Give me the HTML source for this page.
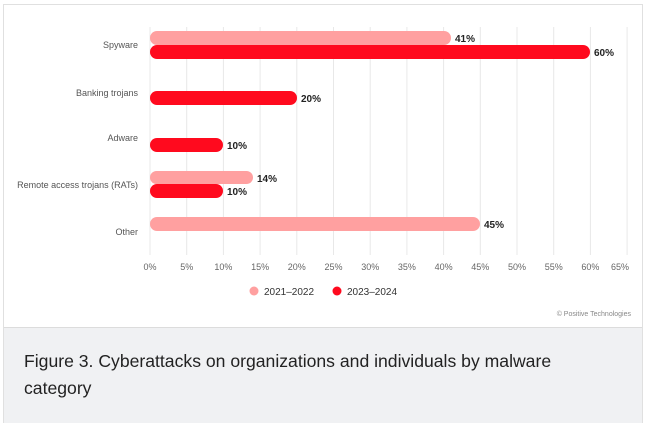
<!DOCTYPE html>
<html><head><style>
body{margin:0;width:646px;height:428px;background:#fff;font-family:"Liberation Sans",sans-serif;position:relative;overflow:hidden}
.box{position:absolute;left:3px;top:4px;width:638px;height:417px;border:1px solid #e0e0e0}
.cap{position:absolute;left:4px;top:327px;width:638px;height:95px;background:#f0f1f3;border-top:1px solid #dcdcdc}
.cap div{position:absolute;left:20px;top:20px;font-size:17.6px;line-height:27px;color:#222;white-space:nowrap}
</style></head><body>
<div class="box"></div>
<div class="cap"><div>Figure 3. Cyberattacks on organizations and individuals by malware<br>category</div></div>
<svg width="646" height="428" style="position:absolute;left:0;top:0" font-family="Liberation Sans, sans-serif">
<g stroke="#e8e8e8" stroke-width="1">
<line x1="150" y1="27" x2="150" y2="255"/><line x1="186.7" y1="27" x2="186.7" y2="255"/><line x1="223.4" y1="27" x2="223.4" y2="255"/><line x1="260.1" y1="27" x2="260.1" y2="255"/><line x1="296.8" y1="27" x2="296.8" y2="255"/><line x1="333.5" y1="27" x2="333.5" y2="255"/><line x1="370.2" y1="27" x2="370.2" y2="255"/><line x1="406.9" y1="27" x2="406.9" y2="255"/><line x1="443.6" y1="27" x2="443.6" y2="255"/><line x1="480.3" y1="27" x2="480.3" y2="255"/><line x1="517" y1="27" x2="517" y2="255"/><line x1="553.7" y1="27" x2="553.7" y2="255"/><line x1="590.4" y1="27" x2="590.4" y2="255"/><line x1="627.1" y1="27" x2="627.1" y2="255"/>
</g>
<g font-size="9" fill="#666" text-anchor="middle">
<text x="150" y="270">0%</text><text x="186.7" y="270">5%</text><text x="223.4" y="270">10%</text><text x="260.1" y="270">15%</text><text x="296.8" y="270">20%</text><text x="333.5" y="270">25%</text><text x="370.2" y="270">30%</text><text x="406.9" y="270">35%</text><text x="443.6" y="270">40%</text><text x="480.3" y="270">45%</text><text x="517" y="270">50%</text><text x="553.7" y="270">55%</text><text x="590.4" y="270">60%</text><text x="620" y="270">65%</text>
</g>
<g font-size="9" fill="#555" text-anchor="end">
<text x="138" y="48">Spyware</text><text x="138" y="96">Banking trojans</text><text x="138" y="141">Adware</text><text x="138" y="188">Remote access trojans (RATs)</text><text x="138" y="235">Other</text>
</g>
<g>
<rect x="150" y="31" width="301" height="14" rx="7" fill="#ffa0a0"/>
<rect x="150" y="45" width="440" height="14" rx="7" fill="#ff0a1e"/>
<rect x="150" y="91" width="147" height="14" rx="7" fill="#ff0a1e"/>
<rect x="150" y="138" width="73" height="14" rx="7" fill="#ff0a1e"/>
<rect x="150" y="171" width="103" height="13" rx="6.5" fill="#ffa0a0"/>
<rect x="150" y="184" width="73" height="14" rx="7" fill="#ff0a1e"/>
<rect x="150" y="217" width="330" height="14" rx="7" fill="#ffa0a0"/>
</g>
<g font-size="10" font-weight="bold" fill="#222">
<text x="455" y="42">41%</text><text x="594" y="56">60%</text><text x="301" y="102">20%</text><text x="227" y="149">10%</text><text x="257" y="182">14%</text><text x="227" y="195">10%</text><text x="484" y="228">45%</text>
</g>
<circle cx="254" cy="291" r="4.5" fill="#ffa0a0"/><text x="264" y="295" font-size="10" fill="#333">2021–2022</text>
<circle cx="337" cy="291" r="4.5" fill="#ff0a1e"/><text x="347" y="295" font-size="10" fill="#333">2023–2024</text>
<text x="631" y="316" font-size="7" fill="#888" text-anchor="end">© Positive Technologies</text>
</svg>
</body></html>
